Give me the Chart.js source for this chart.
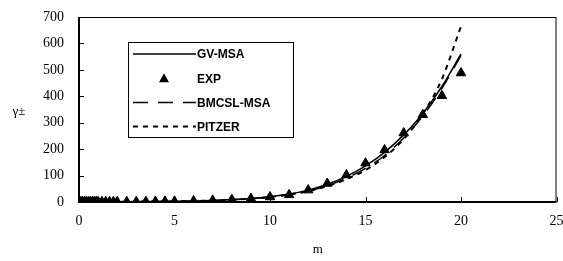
<!DOCTYPE html>
<html>
<head>
<meta charset="utf-8">
<script src="https://cdn.jsdelivr.net/npm/chart.js@4/dist/chart.umd.min.js"></script>
<style>
    html, body { margin: 0; padding: 0; background: #fff; }
    #wrap { width: 563px; height: 261px; position: relative; }
</style>
</head>
<body>
<div id="wrap"><canvas id="gammaChart"></canvas></div>
<script>
// experimental points
const expM = [0.1, 0.2, 0.3, 0.4, 0.5, 0.6, 0.7, 0.8, 0.9, 1.0, 1.2, 1.4, 1.6, 1.8, 2.0,
    2.5, 3, 3.5, 4, 4.5, 5, 6, 7, 8, 9, 10, 11, 12, 13, 14, 15, 16, 17, 18, 19, 20];
const expGamma = [0.80, 0.77, 0.76, 0.75, 0.75, 0.76, 0.77, 0.78, 0.79, 0.80, 0.84, 0.88, 0.93, 0.97, 1.02,
    1.16, 1.34, 1.58, 1.9, 2.3, 2.7, 4.0, 6.0, 9.0, 13, 19, 27, 45, 70, 102, 147, 197, 261, 330, 402, 488];

// model curves
const modelM = [0.1, 0.5, 1, 2, 3, 4, 5, 6, 7, 8, 9, 10, 11, 12, 13, 14, 15, 16, 17, 18, 19, 20];
const gvMsa = [0.8, 0.75, 0.8, 1.0, 1.35, 1.9, 2.7, 4.0, 6.0, 9, 13, 20, 30, 45, 67, 97, 137, 188, 254, 335, 437, 560];
const bmcslMsa = [0.8, 0.75, 0.8, 1.0, 1.3, 1.8, 2.6, 3.8, 5.7, 8.5, 12.5, 19, 28, 42, 62, 90, 127, 176, 242, 325, 430, 555];
const pitzer = [0.8, 0.75, 0.8, 1.0, 1.35, 1.9, 2.7, 3.9, 5.7, 8.5, 12.5, 19, 28, 41, 60, 86, 121, 170, 238, 333, 465, 665];

const xTicks = [0, 5, 10, 15, 20, 25];
const yTicks = [0, 100, 200, 300, 400, 500, 600, 700];

function pairs(xs, ys) {
    return xs.map((x, i) => ({ x: x, y: ys[i] }));
}

const serif = '"Liberation Serif", "Times New Roman", serif';
const sans = '"Liberation Sans", Arial, sans-serif';

// frame, inner ticks, axis titles and the boxed legend
const decorPlugin = {
    id: 'decor',
    afterDatasetsDraw(chart) {
        const ctx = chart.ctx;
        const area = chart.chartArea;
        const xs = chart.scales.x;
        const ys = chart.scales.y;
        ctx.save();

        // inner ticks
        ctx.strokeStyle = '#000';
        ctx.lineWidth = 1;
        ctx.beginPath();
        yTicks.forEach(v => {
            const py = Math.round(ys.getPixelForValue(v)) + 0.5;
            ctx.moveTo(area.left, py);
            ctx.lineTo(area.left + 5, py);
        });
        xTicks.forEach(v => {
            const px = Math.round(xs.getPixelForValue(v)) + 0.5;
            ctx.moveTo(px, area.bottom);
            ctx.lineTo(px, area.bottom - 5);
        });
        ctx.stroke();

        // frame
        ctx.lineWidth = 1;
        ctx.strokeRect(area.left + 0.5, area.top + 0.5, area.right - area.left - 1, area.bottom - area.top - 1);
        ctx.lineWidth = 2;
        ctx.beginPath();
        ctx.moveTo(area.left, area.top);
        ctx.lineTo(area.left, area.bottom);
        ctx.lineTo(area.right, area.bottom);
        ctx.stroke();

        // axis titles
        ctx.fillStyle = '#000';
        ctx.font = '13px ' + serif;
        ctx.textAlign = 'center';
        ctx.textBaseline = 'middle';
        ctx.fillText('m', (area.left + area.right) / 2, 250);
        ctx.fillText('\u03b3\u00b1', 19, (area.top + area.bottom) / 2 + 2);

        // legend box
        const bx = 128, by = 42, bw = 165, bh = 95;
        ctx.fillStyle = '#fff';
        ctx.fillRect(bx, by, bw, bh);
        ctx.lineWidth = 1;
        ctx.strokeStyle = '#000';
        ctx.strokeRect(bx + 0.5, by + 0.5, bw, bh);

        ctx.font = 'bold 12px ' + sans;
        ctx.textAlign = 'left';
        chart.data.datasets.forEach((ds, i) => {
            const rowY = 54 + i * 24.2;
            ctx.strokeStyle = '#000';
            ctx.fillStyle = '#000';
            if (ds.showLine === false) {
                ctx.beginPath();
                ctx.moveTo(164, rowY - 5);
                ctx.lineTo(169, rowY + 4);
                ctx.lineTo(159, rowY + 4);
                ctx.closePath();
                ctx.fill();
            } else {
                ctx.lineWidth = ds.borderWidth;
                ctx.setLineDash(ds.borderDash || []);
                ctx.beginPath();
                ctx.moveTo(133, rowY);
                ctx.lineTo(196, rowY);
                ctx.stroke();
                ctx.setLineDash([]);
            }
            ctx.fillText(ds.label, 197, rowY + 1);
        });
        ctx.restore();
    }
};

const ctx = document.getElementById('gammaChart').getContext('2d');
new Chart(ctx, {
    type: 'scatter',
    data: {
        datasets: [
            {
                label: 'GV-MSA',
                data: pairs(modelM, gvMsa),
                showLine: true,
                borderColor: '#000',
                borderWidth: 1.5,
                pointRadius: 0,
                cubicInterpolationMode: 'monotone'
            },
            {
                label: 'EXP',
                data: pairs(expM, expGamma),
                showLine: false,
                pointStyle: 'triangle',
                pointRadius: 5.5,
                backgroundColor: '#000',
                borderColor: '#000',
                borderWidth: 1
            },
            {
                label: 'BMCSL-MSA',
                data: pairs(modelM, bmcslMsa),
                showLine: true,
                borderColor: '#000',
                borderWidth: 1.5,
                borderDash: [15, 10],
                pointRadius: 0,
                cubicInterpolationMode: 'monotone'
            },
            {
                label: 'PITZER',
                data: pairs(modelM, pitzer),
                showLine: true,
                borderColor: '#000',
                borderWidth: 2,
                borderDash: [5, 5],
                pointRadius: 0,
                cubicInterpolationMode: 'monotone'
            }
        ]
    },
    options: {
        responsive: true,
        maintainAspectRatio: false,
        animation: false,
        layout: {
            padding: { left: 0, right: 6, top: 17, bottom: 0 }
        },
        plugins: {
            legend: { display: false },
            tooltip: { enabled: false }
        },
        scales: {
            x: {
                type: 'linear',
                min: 0,
                max: 25,
                afterBuildTicks: scale => { scale.ticks = xTicks.map(v => ({ value: v })); },
                afterFit: scale => {
                    scale.height = 59;
                    scale.paddingLeft = 0;
                    scale.paddingRight = 0;
                },
                grid: { display: false },
                border: { display: false },
                ticks: {
                    color: '#000',
                    padding: 3,
                    font: { family: serif, size: 14 },
                    maxRotation: 0
                }
            },
            y: {
                type: 'linear',
                min: 0,
                max: 700,
                afterBuildTicks: scale => { scale.ticks = yTicks.map(v => ({ value: v })); },
                afterFit: scale => {
                    scale.width = 79;
                    scale.paddingTop = 0;
                    scale.paddingBottom = 0;
                },
                grid: { display: false },
                border: { display: false },
                ticks: {
                    color: '#000',
                    padding: 7,
                    font: { family: serif, size: 14 }
                }
            }
        }
    },
    plugins: [decorPlugin]
});
</script>
</body>
</html>
